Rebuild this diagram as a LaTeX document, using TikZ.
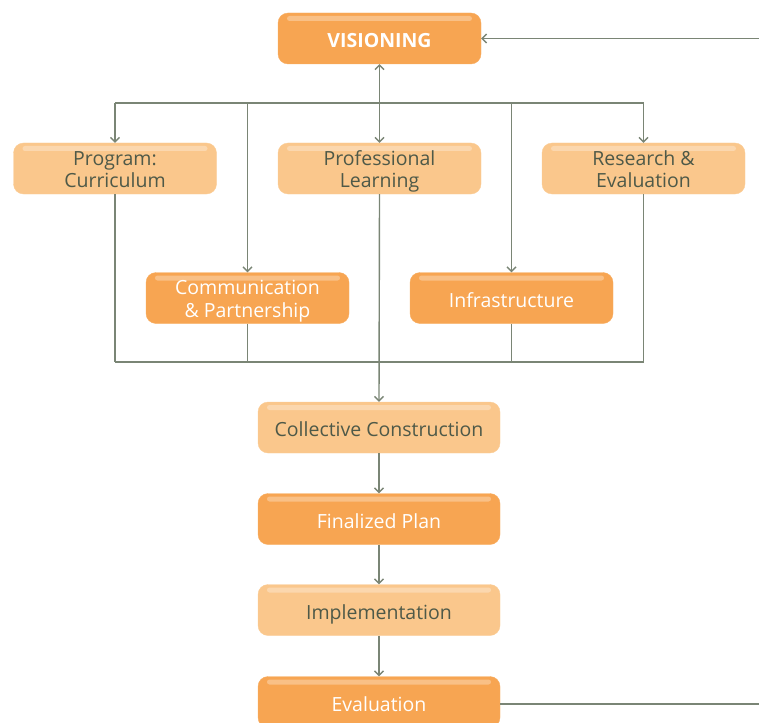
\documentclass[tikz,border=0pt]{standalone}
\usepackage{fontspec}
\setmainfont{Open Sans}
\usetikzlibrary{arrows.meta,positioning}
\definecolor{darkor}{HTML}{F7A552}
\definecolor{lightor}{HTML}{FAC78C}
\definecolor{txtdark}{HTML}{4E5948}
\definecolor{linec}{HTML}{7A8575}
\tikzset{
  box/.style={rounded corners=10pt, inner sep=0pt, minimum width=203pt, minimum height=51pt,
    align=center, font={\fontsize{19.5}{22.5}\selectfont},
    text height=22pt, text depth=4pt,
    path picture={\fill[white,opacity=0.3,rounded corners=2.5pt]
      ([xshift=9pt,yshift=-3pt]path picture bounding box.north west) rectangle
      ([xshift=-9pt,yshift=-8pt]path picture bounding box.north east);}},
  twoline/.style={text height=41pt, text depth=3pt},
  darkbox/.style={box, fill=darkor, draw=darkor!90!white, text=white},
  lightbox/.style={box, fill=lightor, draw=lightor!90!white, text=txtdark},
  widebox/.style={minimum width=242pt},
  conn/.style={draw=linec, line width=1.4pt},
  arr/.style={conn, -{Straight Barb[length=4.5pt,width=9pt,line width=1.4pt]}}
}
\begin{document}
\begin{tikzpicture}[x=1pt,y=-1pt]
\useasboundingbox (0,0) rectangle (759,722);
\clip (0,0) rectangle (759,722);
\node[darkbox, font={\fontsize{19.5}{22.5}\selectfont\bfseries}] (vis) at (379.5,38.5) {VISIONING};
\node[lightbox, twoline] (prog) at (115,168.5) {Program:\\Curriculum};
\node[lightbox, twoline] (prof) at (379.5,168.5) {Professional\\Learning};
\node[lightbox, twoline] (res) at (643.5,168.5) {Research \&\\Evaluation};
\node[darkbox, twoline] (comm) at (247.5,298) {Communication\\\& Partnership};
\node[darkbox] (infra) at (511.5,298) {Infrastructure};
\node[lightbox, widebox] (coll) at (379,427.5) {Collective Construction};
\node[darkbox, widebox] (fin) at (379,519) {Finalized Plan};
\node[lightbox, widebox] (impl) at (379,610) {Implementation};
\node[darkbox, widebox] (eval) at (379,702) {Evaluation};
% top bus
\coordinate (tl) at (115,103);
\coordinate (tr) at (643.5,103);
\coordinate (tm) at (379.5,103);
\draw[conn] (tl) -- (tr);
\draw[arr] (tl) -- (prog.north);
\draw[arr] (tl -| comm) -- (comm.north);
\draw[arr] (tm) -- (prof.north);
\draw[arr] (tl -| infra) -- (infra.north);
\draw[arr] (tr) -- (res.north);
\draw[arr] (tm) -- (vis.south);
% bottom bus
\coordinate (bl) at (115,362);
\coordinate (br) at (643.5,362);
\draw[conn] (bl) -- (br);
\draw[conn] (prog.south) -- (bl);
\draw[conn] (res.south) -- (br);
\draw[conn] (comm.south) -- (bl -| comm);
\draw[conn] (infra.south) -- (bl -| infra);
\draw[arr] (prof.south) -- (coll.north);
\draw[arr] (coll) -- (fin);
\draw[arr] (fin) -- (impl);
\draw[arr] (impl) -- (eval);
% feedback loop
\coordinate (fr) at (775,704);
\draw[arr] (eval.east |- fr) -- (fr) -- (fr |- vis) -- (vis.east);
\end{tikzpicture}
\end{document}
